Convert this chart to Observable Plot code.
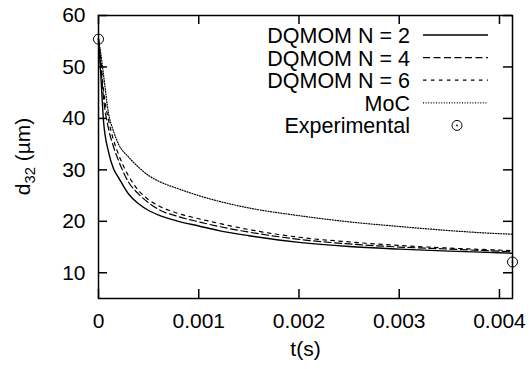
<!DOCTYPE html>
<html><head><meta charset="utf-8">
<script src="https://cdn.jsdelivr.net/npm/d3@7"></script>
<script src="https://cdn.jsdelivr.net/npm/@observablehq/plot@0.6"></script>
<style>body{margin:0;background:#fff;} svg{font-family:"Liberation Sans",Arial,sans-serif;}</style>
</head><body><div id="chart"></div>
<script>
// ---- data ----
const t   = [0, 0.00002, 0.00005, 0.0001, 0.00015, 0.0002, 0.0003, 0.0004, 0.0005, 0.0006, 0.0008, 0.001, 0.0012, 0.0015, 0.002, 0.0025, 0.003, 0.0035, 0.004, 0.00413];
const n2  = [55.3, 49.5, 39.5, 33.5, 30.2, 28.5, 25.3, 23.4, 22.1, 21.2, 20.0, 19.1, 18.2, 17.2, 15.9, 15.1, 14.6, 14.2, 13.9, 13.8];
const n4  = [55.3, 51.0, 44.0, 38.0, 34.5, 31.8, 27.6, 25.3, 23.6, 22.3, 20.9, 19.9, 19.0, 17.9, 16.5, 15.6, 15.0, 14.6, 14.2, 14.1];
const n6  = [55.3, 52.0, 45.5, 39.7, 35.8, 33.0, 28.8, 26.0, 24.2, 23.0, 21.5, 20.5, 19.6, 18.4, 16.9, 16.0, 15.3, 14.8, 14.4, 14.3];
const moc = [55.3, 53.0, 48.5, 41.0, 37.5, 35.0, 32.5, 30.5, 28.9, 27.8, 26.3, 25.0, 23.9, 22.6, 21.1, 19.9, 19.0, 18.2, 17.6, 17.5];
const expT = [0, 0.00413];
const expD = [55.4, 12.1];
const seriesNames = ["DQMOM N = 2", "DQMOM N = 4", "DQMOM N = 6", "MoC"];
const seriesValues = [n2, n4, n6, moc];
const expName = "Experimental";
const xTicks = [0, 0.001, 0.002, 0.003, 0.004];
const yTicks = [10, 20, 30, 40, 50, 60];
const xLabel = "t(s)";

// ---- styles / layout ----
const dashes = [null, "7,3.5", "3.5,4.5", "1,1.6"];
const W = 532, H = 369, mL = 98, mR = 20, mT = 15, mB = 71;
const innerW = W - mL - mR, innerH = H - mT - mB, tk = 9;
const FS = 21, LFS = 21.5;

const lineMarks = seriesValues.map((vals, i) =>
  Plot.line(t.map((x, j) => ({t: x, d: vals[j]})), {
    x: "t", y: "d", stroke: "#000", strokeWidth: i === 0 ? 1.4 : 1.2,
    strokeDasharray: dashes[i], curve: "monotone-x"
  })
);
const expData = expT.map((x, j) => ({t: x, d: expD[j]}));

const plot = Plot.plot({
  width: W, height: H, marginLeft: mL, marginRight: mR, marginTop: mT, marginBottom: mB,
  style: {fontFamily: "Liberation Sans, Arial, sans-serif", fontSize: FS + "px", background: "#fff", color: "#000"},
  x: {domain: [0, 0.00413]},
  y: {domain: [5, 60]},
  marks: [
    Plot.axisX(xTicks, {tickSize: 0, tickPadding: 15, tickFormat: d => d === 0 ? "0" : d.toFixed(3), label: null, fontSize: FS}),
    Plot.axisY(yTicks, {tickSize: 0, tickPadding: 13, label: null, fontSize: FS}),
    Plot.tickX(xTicks, {x: d => d, insetTop: innerH - tk, strokeWidth: 1.5}),
    Plot.tickX(xTicks, {x: d => d, insetBottom: innerH - tk, strokeWidth: 1.5}),
    Plot.tickY(yTicks, {y: d => d, insetRight: innerW - tk, strokeWidth: 1.5}),
    Plot.tickY(yTicks, {y: d => d, insetLeft: innerW - tk, strokeWidth: 1.5}),
    ...lineMarks,
    Plot.dot(expData, {x: "t", y: "d", r: 5, stroke: "#000", strokeWidth: 1}),
    Plot.dot(expData, {x: "t", y: "d", r: 0.9, fill: "#000"}),
    Plot.frame({strokeWidth: 1.5}),
    Plot.text([xLabel], {frameAnchor: "bottom", dy: 57, fontSize: FS, text: d => d})
  ]
});

const svg = d3.select(plot);
// y-axis label with subscript
const yl = svg.append("text")
  .attr("transform", `translate(30,${mT + innerH / 2}) rotate(-90)`)
  .attr("text-anchor", "middle").attr("font-size", FS).attr("fill", "#000");
yl.append("tspan").text("d");
yl.append("tspan").attr("font-size", FS * 0.7).attr("dy", 5).text("32");
yl.append("tspan").attr("dy", -5).text(" (µm)");

// legend
const lg = svg.append("g");
const textRight = 410, l1 = 423, l2 = 488, y0 = mT + 20, step = 22.6;
seriesNames.forEach((name, i) => {
  const y = y0 + i * step;
  lg.append("text").attr("x", textRight).attr("y", y + 8).attr("text-anchor", "end")
    .attr("font-size", LFS).attr("fill", "#000").text(name);
  lg.append("line").attr("x1", l1).attr("x2", l2).attr("y1", y).attr("y2", y)
    .attr("stroke", "#000").attr("stroke-width", i === 0 ? 1.4 : 1.2)
    .attr("stroke-dasharray", dashes[i]);
});
{
  const y = y0 + seriesNames.length * step;
  lg.append("text").attr("x", textRight).attr("y", y + 8).attr("text-anchor", "end")
    .attr("font-size", LFS).attr("fill", "#000").text(expName);
  lg.append("circle").attr("cx", 457).attr("cy", y).attr("r", 5)
    .attr("fill", "none").attr("stroke", "#000");
  lg.append("circle").attr("cx", 457).attr("cy", y).attr("r", 0.9).attr("fill", "#000");
}

document.getElementById("chart").appendChild(plot);
</script></body></html>
